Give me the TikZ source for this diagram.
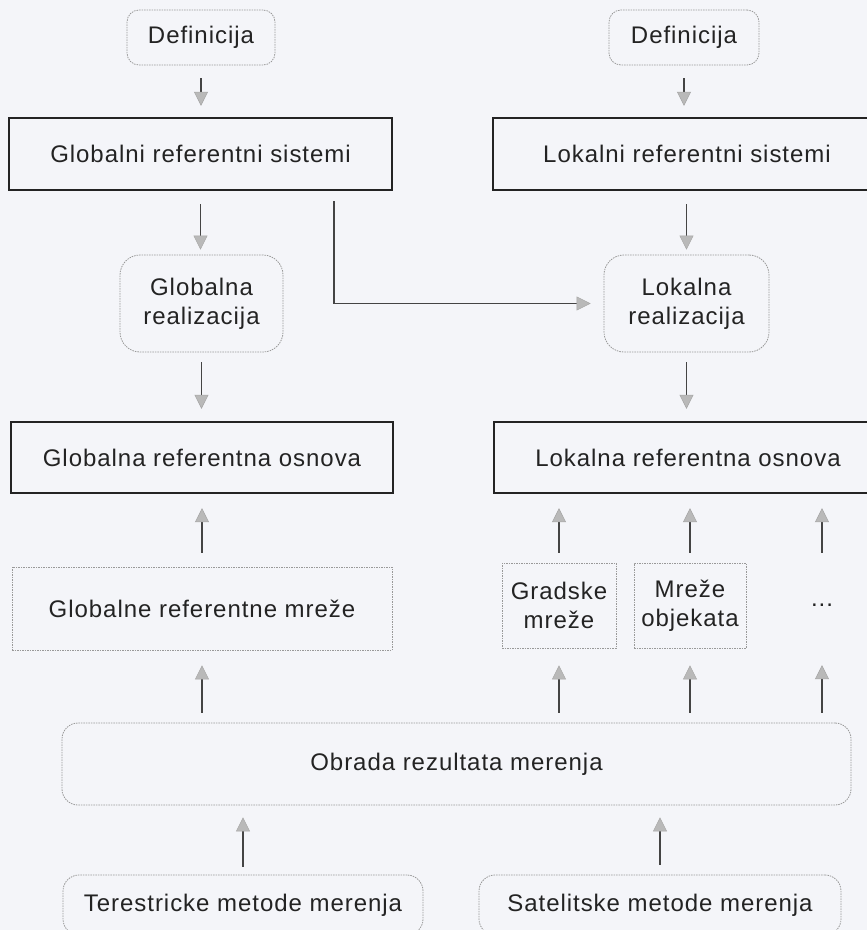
\documentclass[tikz,border=0pt]{standalone}
\usepackage{fontspec}
\setmainfont{Liberation Sans}[LetterSpace=4]
\usetikzlibrary{arrows.meta,calc}
\definecolor{paper}{RGB}{244,245,249}
\definecolor{ink}{RGB}{35,35,35}
\tikzset{
  lbl/.style={font=\fontsize{24}{29}\selectfont, text=ink, align=center, inner sep=0pt},
  soft/.style={lbl, draw=gray!80, line width=0.8pt, dash pattern=on 1.5pt off 1pt},
  softround/.style={soft, rounded corners=#1},
  heavy/.style={lbl, draw=ink, line width=2.4pt},
  arr/.style={draw=ink!85, line width=1.6pt,
    -{Triangle[length=14pt,width=14pt,color=gray!70,fill=gray!55,line width=0.5pt]}},
  sz/.style 2 args={minimum width=#1pt, minimum height=#2pt},
}
\begin{document}
\begin{tikzpicture}[x=1pt,y=-1pt]
  \useasboundingbox (0,0) rectangle (867,930);
  \clip (0,0) rectangle (867,930);
  \fill[paper] (0,0) rectangle (867,930);

  % top row: definitions
  \node[softround=12pt, sz={148}{55}] (def1) at (201,37.5) {Definicija};
  \node[softround=12pt, sz={150}{55}] (def2) at (684,37.5) {Definicija};

  % reference systems
  \node[heavy, sz={383}{72}] (gsys) at (200.5,154) {Globalni referentni sistemi};
  \node[heavy, sz={388}{72}] (lsys) at (687,154) {Lokalni referentni sistemi};

  % realizations
  \node[softround=20pt, sz={163}{97}] (greal) at (201.5,303.5) {Globalna\\realizacija};
  \node[softround=20pt, sz={165}{97}] (lreal) at (686.5,303.5) {Lokalna\\realizacija};

  % reference frames
  \node[heavy, sz={382}{71}] (gosn) at (202,457.5) {Globalna referentna osnova};
  \node[heavy, sz={388}{71}] (losn) at (688,457.5) {Lokalna referentna osnova};

  % networks
  \node[soft, sz={380}{83}] (gmrez) at (202,608.5) {Globalne referentne mre\v{z}e};
  \node[soft, sz={114}{85}] (grad) at (559,605.5) {Gradske\\mre\v{z}e};
  \node[soft, sz={112}{85}] (mobj) at (690,605.5) {Mre\v{z}e\\objekata};
  \node[lbl, sz={60}{85}] (dots) at (822,605.5) {...};

  % processing
  \node[softround=16pt, sz={789}{82}] (obr) at (456.5,764) {Obrada rezultata merenja};

  % measuring methods
  \node[softround=16pt, sz={360}{60}] (ter) at (243,905) {Terestricke metode merenja};
  \node[softround=16pt, sz={362}{60}] (sat) at (660,905) {Satelitske metode merenja};

  % downward flow
  \draw[arr, shorten <=13pt, shorten >=11pt] (def1.south) -- (def1.south |- gsys.north);
  \draw[arr, shorten <=13pt, shorten >=11pt] (def2.south) -- (def2.south |- lsys.north);
  \draw[arr, shorten <=13pt, shorten >=5pt] (gsys.south) -- (gsys.south |- greal.north);
  \draw[arr, shorten <=13pt, shorten >=5pt] (lsys.south -| lreal.north) -- (lreal.north);
  \draw[arr, shorten <=10pt, shorten >=12pt] (greal.south) -- (greal.south |- gosn.north);
  \draw[arr, shorten <=10pt, shorten >=12pt] (lreal.south) -- (lreal.south |- losn.north);
  \draw[arr, shorten <=10pt, shorten >=13pt] ($(gsys.south east)+(-59,0)$) |- (lreal.west);

  % networks feed the frames
  \draw[arr, shorten <=14pt, shorten >=14pt] (gmrez.north) -- (gmrez.north |- gosn.south);
  \draw[arr, shorten <=10pt, shorten >=14pt] (grad.north) -- (grad.north |- losn.south);
  \draw[arr, shorten <=10pt, shorten >=14pt] (mobj.north) -- (mobj.north |- losn.south);
  \draw[arr, shorten <=10pt, shorten >=14pt] (dots.north) -- (dots.north |- losn.south);

  % processing feeds the networks
  \draw[arr, shorten <=10pt, shorten >=15pt] (obr.north -| gmrez.south) -- (gmrez.south);
  \draw[arr, shorten <=10pt, shorten >=17pt] (obr.north -| grad.south) -- (grad.south);
  \draw[arr, shorten <=10pt, shorten >=17pt] (obr.north -| mobj.south) -- (mobj.south);
  \draw[arr, shorten <=10pt, shorten >=17pt] (obr.north -| dots.south) -- (dots.south);

  % measurements feed the processing
  \draw[arr, shorten <=8pt, shorten >=12pt] (ter.north) -- (ter.north |- obr.south);
  \draw[arr, shorten <=10pt, shorten >=12pt] (sat.north) -- (sat.north |- obr.south);
\end{tikzpicture}
\end{document}
